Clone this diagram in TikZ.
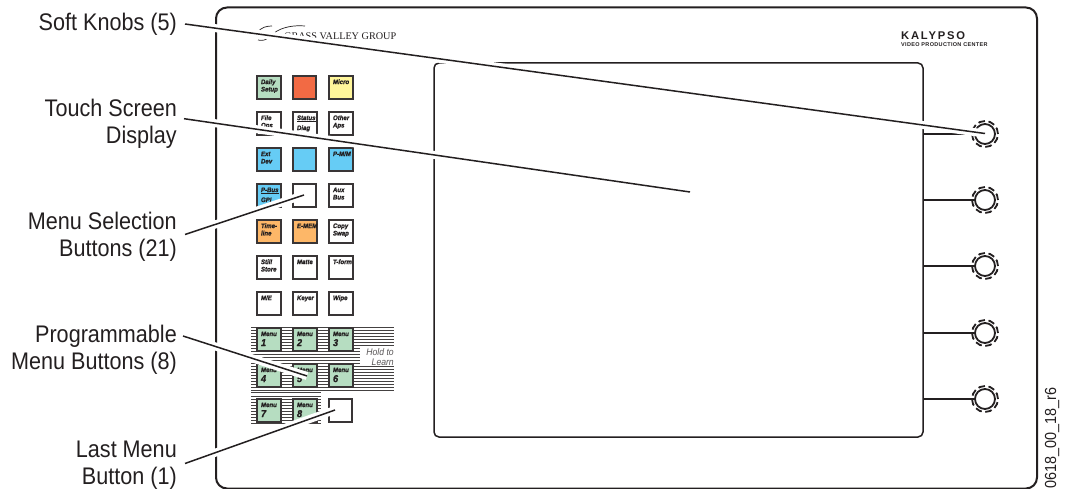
\documentclass[tikz,border=0pt]{standalone}
\usepackage{xcolor}
\usepackage{fontspec}
\setmainfont{Liberation Sans}[FakeStretch=0.9]
\newfontfamily\btnfont{Liberation Sans}[UprightFont=* Bold Italic, FakeStretch=0.92, FakeBold=1.2]
\newfontfamily\logofont{Liberation Serif}
\newfontfamily\kalfont{Liberation Sans}[LetterSpace=16]
\newfontfamily\subfont{Liberation Sans}[LetterSpace=6]
\usetikzlibrary{positioning}
\definecolor{btngreen}{HTML}{B6DDC1}
\definecolor{btnred}{HTML}{F26A44}
\definecolor{btnyellow}{HTML}{FFF69B}
\definecolor{btnblue}{HTML}{66CCF5}
\definecolor{btnorange}{HTML}{FDB768}
\definecolor{inkblack}{HTML}{231F20}
\tikzset{
  callout/.style={font=\fontsize{24}{27.5}\selectfont, text=inkblack, align=right, anchor=east, inner sep=2pt},
  panelbox/.style={rectangle, draw=inkblack, line width=2pt, rounded corners=11pt, minimum width=821pt, minimum height=481pt, inner sep=0pt},
  screenbox/.style={rectangle, draw=inkblack, line width=1.5pt, rounded corners=5pt, minimum width=489pt, minimum height=374pt, inner sep=0pt},
  btn/.style={rectangle, draw=inkblack!90, line width=2pt, fill=white, minimum size=23pt, inner sep=0pt, font=\btnfont\fontsize{6.6}{7.4}\selectfont, text=inkblack},
  knob/.style={circle, draw=inkblack, line width=1.8pt, fill=white, minimum size=20pt, inner sep=0pt},
  knobring/.style={circle, draw=inkblack, line width=1.8pt, dash pattern=on 6.6pt off 3.6pt, minimum size=26pt, inner sep=0pt},
  leader/.style={draw=inkblack, line width=1.5pt, preaction={draw=white, line width=8pt}},
  stub/.style={draw=inkblack, line width=1.2pt},
  stripe/.style={draw=inkblack!85, line width=0.9pt}
}
\newcommand{\btntxt}[1]{\parbox[c][17pt][t]{24pt}{\raggedright\leftskip=4.5pt\rightskip=0pt plus 1fil\strut\vspace{-2.5pt}\par\vspace{-5pt}#1}}
\newcommand{\menutxt}[1]{\btntxt{Menu\\[2.6pt]{\fontsize{10}{10}\selectfont #1}}}
\begin{document}
\begin{tikzpicture}[x=1pt, y=-1pt, node distance=36pt]
\useasboundingbox (0,0) rectangle (1066,489);
% panel and logos
\node[panelbox] (panel) at (626.5,248) {};
\draw[inkblack, line width=0.7pt] (257,33) .. controls (261,27) and (267,26) .. (272,26);
\draw[inkblack, line width=0.7pt] (258,40) .. controls (262,41) and (266,40) .. (268,38);
\draw[inkblack, line width=0.7pt] (274,33) .. controls (282,27) and (294,25) .. (305,26);
\node[anchor=west, inner sep=0pt, font=\logofont\fontsize{10.2}{10}\selectfont, text=inkblack] (gvg) at (284,36.5) {GRASS VALLEY GROUP};
\node[anchor=west, inner sep=0pt, font=\kalfont\bfseries\fontsize{11.2}{12}\selectfont, text=inkblack] (kal) at (901,36) {KALYPSO};
\node[anchor=west, inner sep=0pt, font=\subfont\bfseries\fontsize{5.5}{6}\selectfont, text=inkblack] (vpc) at (901,45) {VIDEO PRODUCTION CENTER};
% stripes behind the menu buttons
\foreach \y in {327,330,...,390} {\draw[stripe] (251,\y) -- (394,\y);}
\foreach \y in {392.5,396,399,...,423} {\draw[stripe] (251,\y) -- (321,\y);}
\node[rectangle, fill=white, minimum width=34pt, minimum height=18pt, inner sep=0pt] (holdbg) at (377,357) {};
\node[anchor=east, align=right, inner sep=0pt, font=\itshape\fontsize{9.6}{10.4}\selectfont, text=inkblack!75] (hold) at (394,357) {Hold to\\Learn};
% buttons
\node[btn, fill=btngreen] (b11) at (268.5,87.5) {\btntxt{Daily\\Setup}};
\node[btn, fill=btnred, right of=b11] (b12) {};
\node[btn, fill=btnyellow, right of=b12] (b13) {\btntxt{Micro}};
\node[btn, below of=b11] (b21) {\btntxt{File\\Ops}};
\node[btn, right of=b21] (b22) {\btntxt{\underline{Status}\\[2.6pt]Diag}};
\node[btn, right of=b22] (b23) {\btntxt{Other\\Aps}};
\node[btn, fill=btnblue, below of=b21] (b31) {\btntxt{Ext\\Dev}};
\node[btn, fill=btnblue, right of=b31] (b32) {};
\node[btn, fill=btnblue, right of=b32] (b33) {\btntxt{\mbox{P-M/M}}};
\node[btn, fill=btnblue, below of=b31] (b41) {\btntxt{\underline{\mbox{P-Bus}}\\[2.6pt]GPI}};
\node[btn, right of=b41] (b42) {};
\node[btn, right of=b42] (b43) {\btntxt{Aux\\Bus}};
\node[btn, fill=btnorange, below of=b41] (b51) {\btntxt{\mbox{Time-}\\line}};
\node[btn, fill=btnorange, right of=b51] (b52) {\btntxt{\mbox{E-MEM}}};
\node[btn, right of=b52] (b53) {\btntxt{Copy\\Swap}};
\node[btn, below of=b51] (b61) {\btntxt{Still\\Store}};
\node[btn, right of=b61] (b62) {\btntxt{Matte}};
\node[btn, right of=b62] (b63) {\btntxt{\mbox{T-form}}};
\node[btn, below of=b61] (b71) {\btntxt{M/E}};
\node[btn, right of=b71] (b72) {\btntxt{Keyer}};
\node[btn, right of=b72] (b73) {\btntxt{Wipe}};
\node[btn, fill=btngreen, below of=b71] (b81) {\menutxt{1}};
\node[btn, fill=btngreen, right of=b81] (b82) {\menutxt{2}};
\node[btn, fill=btngreen, right of=b82] (b83) {\menutxt{3}};
\node[btn, fill=btngreen, below of=b81] (b91) {\menutxt{4}};
\node[btn, fill=btngreen, right of=b91] (b92) {\menutxt{5}};
\node[btn, fill=btngreen, right of=b92] (b93) {\menutxt{6}};
\node[btn, fill=btngreen, below of=b91, yshift=1pt] (b101) {\menutxt{7}};
\node[btn, fill=btngreen, right of=b101] (b102) {\menutxt{8}};
\node[btn, right of=b102] (b103) {};
% screen and knobs
\node[screenbox] (screen) at (678.5,250) {};
\foreach \i/\y in {1/134,2/200,3/266,4/333,5/399} {
  \draw[stub] (screen.east |- 0,\y) -- (985,\y);
  \node[knobring] (ring\i) at (985,\y) {};
  \node[knob] (knob\i) at (985,\y) {};
}
% callouts
\node[callout] (softlabel) at (179,24) {Soft Knobs (5)};
\node[callout] (touchlabel) at (179,124) {Touch Screen\\Display};
\node[callout] (menulabel) at (179,237) {Menu Selection\\Buttons (21)};
\node[callout] (proglabel) at (179,350) {Programmable\\Menu Buttons (8)};
\node[callout] (lastlabel) at (179,465) {Last Menu\\Button (1)};
\node[anchor=west, rotate=90, inner sep=0pt, font=\fontsize{16}{16}\selectfont, text=inkblack] (partno) at (1052,489) {0618\_00\_18\_r6};
\coordinate (softstart) at (185,24);
\coordinate (touchstart) at (184,118.7);
\coordinate (menustart) at (185,234.5);
\coordinate (progstart) at (183,336);
\coordinate (laststart) at (185,463.5);
\coordinate (softend) at (985,133.5);
\coordinate (touchend) at (690,192);
\coordinate (menuend) at (304,195);
\coordinate (progend) at (307,376);
\coordinate (lastend) at (335,410);
\draw[leader] (softstart) -- (softend);
\draw[leader] (touchstart) -- (touchend);
\draw[leader] (menustart) -- (menuend);
\draw[leader] (progstart) -- (progend);
\draw[leader] (laststart) -- (lastend);
\end{tikzpicture}
\end{document}
